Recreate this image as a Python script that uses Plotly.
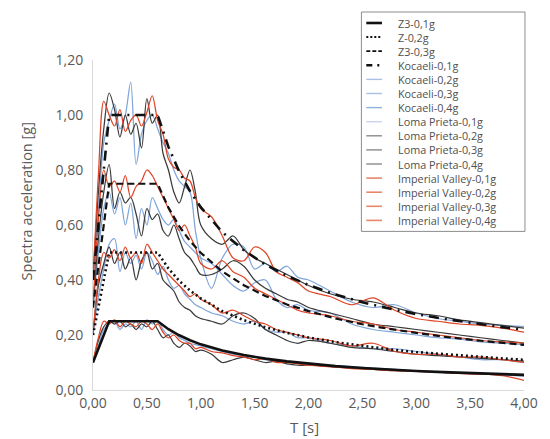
import plotly.graph_objects as go

# ---------------------------------------------------------------------------
# Data
# ---------------------------------------------------------------------------
# Periods [s] of the elastic design spectra (local soil class Z3)
design_periods = [0, 0.15, 0.6, 0.7, 0.8, 0.9, 1.0, 1.2, 1.4, 1.6, 1.8, 2.0,
                  2.25, 2.5, 2.75, 3.0, 3.25, 3.5, 3.75, 4.0]

z3_01g = [0.10, 0.25, 0.25, 0.221, 0.199, 0.181, 0.166, 0.144, 0.127, 0.114,
          0.104, 0.096, 0.087, 0.080, 0.074, 0.069, 0.065, 0.061, 0.058, 0.055]
z3_02g = [0.20, 0.50, 0.50, 0.442, 0.397, 0.362, 0.333, 0.287, 0.254, 0.228,
          0.208, 0.191, 0.174, 0.160, 0.148, 0.138, 0.130, 0.122, 0.116, 0.110]
z3_03g = [0.30, 0.75, 0.75, 0.663, 0.596, 0.542, 0.499, 0.431, 0.381, 0.342,
          0.311, 0.287, 0.260, 0.239, 0.222, 0.207, 0.194, 0.183, 0.173, 0.164]
z3_04g = [0.40, 1.00, 1.00, 0.884, 0.794, 0.723, 0.665, 0.574, 0.508, 0.456,
          0.415, 0.382, 0.347, 0.319, 0.296, 0.276, 0.259, 0.244, 0.231, 0.219]

# Periods [s] of the scaled record spectra
periods = [0, 0.05, 0.1, 0.15, 0.2, 0.25, 0.3, 0.35, 0.4, 0.45, 0.5, 0.55,
           0.6, 0.65, 0.7, 0.75, 0.8, 0.85, 0.9, 0.95, 1.0, 1.1, 1.2, 1.3,
           1.4, 1.5, 1.6, 1.7, 1.8, 1.9, 2.0, 2.2, 2.4, 2.6, 2.8, 3.0, 3.2,
           3.4, 3.6, 3.8, 4.0]

kocaeli_01g = [0.10, 0.16, 0.22, 0.24, 0.25, 0.22, 0.24, 0.23, 0.25, 0.22,
               0.255, 0.24, 0.25, 0.22, 0.20, 0.21, 0.19, 0.18, 0.17, 0.165,
               0.16, 0.15, 0.14, 0.13, 0.125, 0.12, 0.11, 0.105, 0.10, 0.10,
               0.095, 0.09, 0.085, 0.08, 0.075, 0.07, 0.066, 0.062, 0.058,
               0.055, 0.05]
kocaeli_02g = [0.20, 0.34, 0.44, 0.53, 0.55, 0.43, 0.50, 0.46, 0.49, 0.44,
               0.50, 0.47, 0.42, 0.45, 0.40, 0.37, 0.38, 0.35, 0.33, 0.31,
               0.30, 0.28, 0.27, 0.25, 0.24, 0.25, 0.22, 0.21, 0.21, 0.19,
               0.19, 0.17, 0.16, 0.15, 0.15, 0.14, 0.13, 0.12, 0.11, 0.11,
               0.10]
kocaeli_03g = [0.30, 0.50, 0.66, 0.72, 0.64, 0.70, 0.60, 0.68, 0.55, 0.66,
               0.60, 0.70, 0.66, 0.62, 0.60, 0.62, 0.58, 0.54, 0.52, 0.50,
               0.48, 0.46, 0.42, 0.38, 0.36, 0.39, 0.40, 0.33, 0.30, 0.31,
               0.29, 0.28, 0.24, 0.22, 0.21, 0.20, 0.19, 0.185, 0.175, 0.17,
               0.165]
kocaeli_04g = [0.40, 0.65, 0.90, 0.98, 1.04, 0.95, 1.00, 1.12, 0.82, 0.93,
               0.98, 1.00, 0.95, 0.90, 0.86, 0.80, 0.76, 0.74, 0.72, 0.58,
               0.48, 0.37, 0.48, 0.53, 0.52, 0.44, 0.46, 0.43, 0.45, 0.41,
               0.40, 0.36, 0.32, 0.30, 0.31, 0.28, 0.26, 0.25, 0.24, 0.235,
               0.23]

loma_01g = [0.10, 0.18, 0.23, 0.25, 0.24, 0.25, 0.23, 0.24, 0.22, 0.24,
            0.23, 0.25, 0.22, 0.19, 0.20, 0.17, 0.155, 0.17, 0.16, 0.14,
            0.145, 0.13, 0.10, 0.11, 0.12, 0.11, 0.10, 0.105, 0.095, 0.09,
            0.09, 0.085, 0.08, 0.075, 0.07, 0.068, 0.065, 0.062, 0.06, 0.058,
            0.056]
loma_02g = [0.20, 0.38, 0.46, 0.52, 0.46, 0.50, 0.44, 0.48, 0.40, 0.47,
            0.50, 0.44, 0.46, 0.40, 0.38, 0.36, 0.32, 0.30, 0.29, 0.27,
            0.26, 0.25, 0.24, 0.27, 0.28, 0.26, 0.22, 0.20, 0.18, 0.17,
            0.18, 0.17, 0.155, 0.15, 0.14, 0.13, 0.125, 0.12, 0.115, 0.11,
            0.105]
loma_03g = [0.30, 0.55, 0.72, 0.82, 0.66, 0.72, 0.68, 0.70, 0.64, 0.56,
            0.66, 0.62, 0.64, 0.58, 0.56, 0.60, 0.55, 0.50, 0.48, 0.45,
            0.42, 0.42, 0.44, 0.47, 0.45, 0.40, 0.37, 0.35, 0.33, 0.32,
            0.30, 0.28, 0.26, 0.24, 0.23, 0.22, 0.21, 0.20, 0.19, 0.18,
            0.17]
loma_04g = [0.40, 0.72, 0.95, 1.08, 1.02, 0.92, 1.00, 0.93, 0.97, 0.88,
            1.06, 0.97, 1.00, 0.86, 0.80, 0.72, 0.68, 0.74, 0.80, 0.72,
            0.60, 0.55, 0.53, 0.56, 0.51, 0.48, 0.46, 0.44, 0.42, 0.40,
            0.38, 0.35, 0.33, 0.32, 0.30, 0.28, 0.27, 0.255, 0.245, 0.235,
            0.225]

imperial_01g = [0.10, 0.19, 0.25, 0.24, 0.255, 0.23, 0.25, 0.24, 0.23, 0.25,
                0.24, 0.22, 0.24, 0.21, 0.19, 0.20, 0.18, 0.17, 0.17, 0.15,
                0.155, 0.14, 0.135, 0.125, 0.12, 0.11, 0.115, 0.10, 0.10,
                0.095, 0.09, 0.085, 0.078, 0.075, 0.07, 0.068, 0.065, 0.06,
                0.058, 0.052, 0.035]
imperial_02g = [0.20, 0.40, 0.50, 0.48, 0.51, 0.47, 0.52, 0.48, 0.50, 0.46,
                0.53, 0.50, 0.47, 0.44, 0.42, 0.40, 0.38, 0.36, 0.34, 0.35,
                0.33, 0.31, 0.28, 0.29, 0.27, 0.25, 0.24, 0.22, 0.21, 0.20,
                0.19, 0.18, 0.16, 0.17, 0.14, 0.13, 0.13, 0.12, 0.12, 0.11,
                0.10]
imperial_03g = [0.30, 0.62, 0.80, 0.74, 0.76, 0.72, 0.78, 0.70, 0.74, 0.76,
                0.80, 0.78, 0.74, 0.70, 0.66, 0.62, 0.58, 0.60, 0.56, 0.52,
                0.46, 0.44, 0.47, 0.43, 0.41, 0.37, 0.35, 0.33, 0.31, 0.29,
                0.28, 0.27, 0.25, 0.24, 0.22, 0.21, 0.20, 0.19, 0.18, 0.175,
                0.17]
imperial_04g = [0.40, 0.78, 1.05, 1.00, 0.96, 1.02, 0.94, 0.98, 1.00, 0.96,
                1.01, 1.07, 0.98, 0.93, 0.84, 0.81, 0.80, 0.77, 0.76, 0.70,
                0.66, 0.63, 0.56, 0.48, 0.47, 0.52, 0.50, 0.43, 0.41, 0.39,
                0.36, 0.34, 0.31, 0.335, 0.29, 0.26, 0.25, 0.24, 0.235, 0.225,
                0.21]

legend_labels = ["Z3-0,1g", "Z-0,2g", "Z3-0,3g", "Kocaeli-0,1g",
                 "Kocaeli-0,2g", "Kocaeli-0,3g", "Kocaeli-0,4g",
                 "Loma Prieta-0,1g", "Loma Prieta-0,2g", "Loma Prieta-0,3g",
                 "Loma Prieta-0,4g", "Imperial Valley-0,1g",
                 "Imperial Valley-0,2g", "Imperial Valley-0,3g",
                 "Imperial Valley-0,4g"]

x_ticks = [0, 0.5, 1.0, 1.5, 2.0, 2.5, 3.0, 3.5, 4.0]
y_ticks = [0, 0.2, 0.4, 0.6, 0.8, 1.0, 1.2]

# ---------------------------------------------------------------------------
# Styling
# ---------------------------------------------------------------------------
W, H = 550, 439
ML, MR, MT, MB = 93, 17, 60, 49
TXT = "#595959"
FONT = "Open Sans"

BLUE = "#7fa5d9"
GREY = "#3a3a3a"
RED = "#df4426"

design_styles = [
    dict(width=2.6, dash="solid"),
    dict(width=2.6, dash="2px,3px"),
    dict(width=2.2, dash="7px,4px"),
    dict(width=2.6, dash="10px,6px,2px,6px"),
]

fig = go.Figure()

record_sets = [
    ("Kocaeli-0,1g", BLUE, kocaeli_01g), ("Kocaeli-0,2g", BLUE, kocaeli_02g),
    ("Kocaeli-0,3g", BLUE, kocaeli_03g), ("Kocaeli-0,4g", BLUE, kocaeli_04g),
    ("Loma Prieta-0,1g", GREY, loma_01g), ("Loma Prieta-0,2g", GREY, loma_02g),
    ("Loma Prieta-0,3g", GREY, loma_03g), ("Loma Prieta-0,4g", GREY, loma_04g),
    ("Imperial Valley-0,1g", RED, imperial_01g),
    ("Imperial Valley-0,2g", RED, imperial_02g),
    ("Imperial Valley-0,3g", RED, imperial_03g),
    ("Imperial Valley-0,4g", RED, imperial_04g),
]
for name, color, vals in record_sets:
    fig.add_trace(go.Scatter(
        x=periods, y=vals, name=name, mode="lines", showlegend=False,
        line=dict(color=color, width=1.25, shape="spline", smoothing=0.9)))

design_sets = [("Z3-0,1g", z3_01g), ("Z-0,2g", z3_02g),
               ("Z3-0,3g", z3_03g), ("Z3-0,4g", z3_04g)]
for (name, vals), st in zip(design_sets, design_styles):
    fig.add_trace(go.Scatter(
        x=design_periods, y=vals, name=name, mode="lines", showlegend=False,
        line=dict(color="#111111", **st)))

# ---------------------------------------------------------------------------
# Legend box (compact rows), placed in paper coordinates
# ---------------------------------------------------------------------------
plot_w, plot_h = W - ML - MR, H - MT - MB


def px(xp, yp):
    return (xp - ML) / plot_w, (H - MB - yp) / plot_h


legend_lines = (
    [("#111111", 2.6, "solid"), ("#111111", 2.0, "2px,2px"),
     ("#111111", 1.8, "4px,2px"), ("#111111", 2.4, "6px,5px,2px,5px")]
    + [("#a9bfe3", 1.4, "solid")] * 2 + [("#8fb0de", 1.4, "solid")]
    + [("#c8d5ec", 1.4, "solid")] + [("#8a8a8a", 1.4, "solid")] * 3
    + [("#e8866a", 1.6, "solid")] * 4
)

shapes = []
annotations = []
row0, row_h = 23, 14.1
bx0, by1 = px(367, 12)
bx1, by0 = px(534, row0 + 14 * row_h + 11)
shapes.append(dict(type="rect", xref="paper", yref="paper", x0=bx0, x1=bx1,
                   y0=by0, y1=by1, line=dict(color="#8c8c8c", width=1),
                   fillcolor="white", layer="above"))
for i, (label, (col, lw, dash)) in enumerate(zip(legend_labels, legend_lines)):
    yc = row0 + i * row_h
    lx0, ly = px(372, yc)
    lx1, _ = px(388, yc)
    shapes.append(dict(type="line", xref="paper", yref="paper", x0=lx0,
                       x1=lx1, y0=ly, y1=ly, layer="above",
                       line=dict(color=col, width=lw, dash=dash)))
    tx, _ = px(403, yc)
    annotations.append(dict(text=label, xref="paper", yref="paper", x=tx,
                            y=ly, xanchor="left", yanchor="middle",
                            showarrow=False, borderpad=0,
                            font=dict(family=FONT, size=10.8,
                                      color="#505050")))

# Axis titles
ytx, yty = px(25, 201)
annotations.append(dict(text="Spectra acceleration [g]", xref="paper",
                        yref="paper", x=ytx, y=yty, textangle=-90,
                        xanchor="center", yanchor="middle", showarrow=False,
                        font=dict(family=FONT, size=14.5, color=TXT)))
xtx, xty = px(309, 427)
annotations.append(dict(text="T [s]", xref="paper", yref="paper", x=xtx,
                        y=xty, xanchor="center", yanchor="middle",
                        showarrow=False, borderpad=0,
                        font=dict(family=FONT, size=15, color=TXT)))

axis_common = dict(showline=True, linecolor="#d9d9d9", linewidth=1,
                   showgrid=False, zeroline=False, ticks="",
                   tickformat=".2f",
                   tickfont=dict(family=FONT, size=14, color=TXT))

fig.update_layout(
    width=W, height=H,
    margin=dict(l=ML, r=MR, t=MT, b=MB),
    paper_bgcolor="white", plot_bgcolor="white",
    separators=", ",
    showlegend=False,
    shapes=shapes, annotations=annotations,
    xaxis=dict(range=[0, 4], tickvals=x_ticks, **axis_common),
    yaxis=dict(range=[0, 1.2], tickvals=y_ticks, ticklabelstandoff=6,
               **axis_common),
)

fig.write_html("out.html")
